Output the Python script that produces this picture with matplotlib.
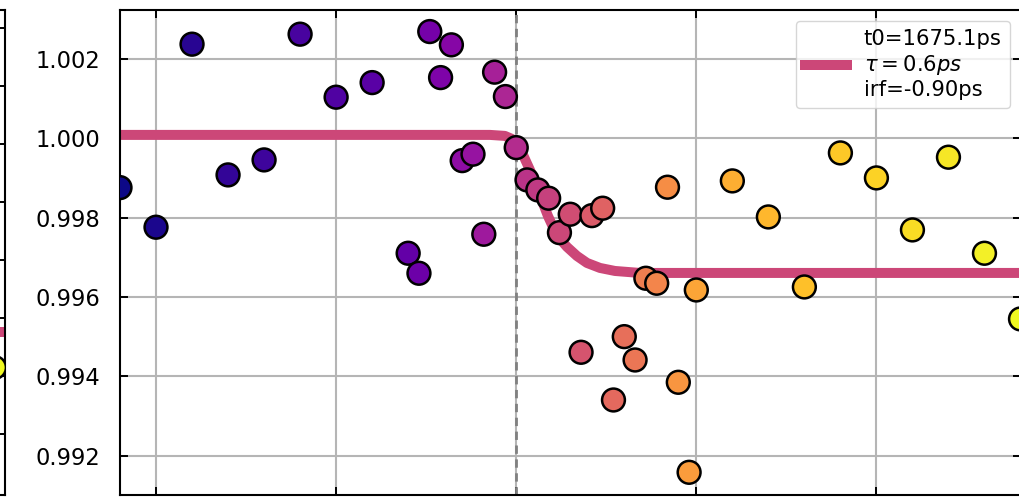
import numpy as np
import matplotlib
matplotlib.use("Agg")
from matplotlib import pyplot as plt

# delay (ps, relative to t0) and normalised signal
delay = [-2.2, -2.0, -1.8, -1.6, -1.4, -1.2, -1.0, -0.8,
         -0.6, -0.54, -0.48, -0.42, -0.36, -0.30, -0.24, -0.18, -0.12, -0.06,
         0.0, 0.06, 0.12, 0.18, 0.24, 0.30, 0.36, 0.42, 0.48, 0.54, 0.60,
         0.66, 0.72, 0.78, 0.84, 0.90, 0.96,
         1.0, 1.2, 1.4, 1.6, 1.8, 2.0, 2.2, 2.4, 2.6, 2.8]
signal = [0.998755, 0.997757, 1.002369, 0.999075, 0.999453, 1.002621, 1.001033, 1.001401,
          0.997101, 0.996597, 1.002687, 1.001527, 1.002352, 0.999435, 0.999597, 0.997580,
          1.001664, 1.001049,
          0.999763, 0.998949, 0.998697, 0.998488, 0.997621, 0.998084, 0.994606, 0.998049,
          0.998236, 0.993404, 0.995000, 0.994412, 0.996471, 0.996345, 0.998765, 0.993850,
          0.991582,
          0.996176, 0.998924, 0.998016, 0.996252, 0.999629, 0.998999, 0.997689, 0.999521,
          0.997101, 0.995446]

# fitted step curve
fit_delay = [-2.3, -0.146, -0.063, -0.024, 0.009, 0.043, 0.076, 0.109, 0.148, 0.176,
             0.204, 0.243, 0.282, 0.337, 0.393, 0.465, 0.548, 0.687, 1.02, 2.9]
fit_signal = [1.000083, 1.000083, 1.000058, 0.999982, 0.999831, 0.999529, 0.999201,
              0.998848, 0.998369, 0.998042, 0.997764, 0.997462, 0.997260, 0.997033,
              0.996857, 0.996731, 0.996655, 0.996605, 0.996605, 0.996605]

fit_label = "t0=1675.1ps\n$\\tau=0.6ps$\nirf=-0.90ps"
t0_line = 0.0

# neighbouring panel (only its right edge is visible)
left_delay = [2.8]
left_signal = [0.992300]
left_fit_delay = [-2.2, 2.9]
left_fit_signal = [0.993528, 0.993528]

W, H = 1019, 501
fig = plt.figure(figsize=(W / 100, H / 100), dpi=100)
cmap = plt.get_cmap("plasma")
fit_color = cmap(0.5)


def style(ax):
    ax.tick_params(direction="in", top=True, right=True, length=6, width=1.4,
                   labelsize=16.3, pad=14)
    for s in ax.spines.values():
        s.set_linewidth(1.5)


# left neighbour panel
axl = fig.add_axes([-906 / W, 6 / H, 911 / W, 485 / H])
axl.plot(left_fit_delay, left_fit_signal, color=fit_color, lw=7.2, zorder=2)
axl.scatter(left_delay, left_signal, c=[cmap(1.0)], s=270, edgecolors="black",
            linewidths=1.8, zorder=3)
axl.set_xlim(-2.2, 2.86)
axl.set_ylim(0.987897, 1.004621)
axl.set_yticks([0.990, 0.992, 0.994, 0.996, 0.998, 1.000, 1.002, 1.004])
style(axl)
axl.tick_params(labelleft=False, labelbottom=False)

# main panel
ax = fig.add_axes([120 / W, 6 / H, 900.5 / W, 485 / H])
colors = cmap(np.linspace(0, 1, len(delay)))
ax.plot(fit_delay, fit_signal, color=fit_color, lw=7.2, zorder=2, label=fit_label)
ax.scatter(delay, signal, c=colors, s=270, edgecolors="black", linewidths=1.8, zorder=3)
ax.axvline(t0_line, color="0.5", ls=(0, (3, 2)), lw=2, zorder=1)
ax.grid(True, color="#b5b5b5", lw=1.5, zorder=0)
ax.set_axisbelow(True)
ax.set_xlim(-2.2, 2.8)
ax.set_ylim(0.99101, 1.00323)
ax.set_xticks([-2.0, -1.0, 0.0, 1.0, 2.0])
ax.set_yticks([0.992, 0.994, 0.996, 0.998, 1.000, 1.002])
ax.yaxis.set_major_formatter(matplotlib.ticker.FormatStrFormatter("%.3f"))
style(ax)
ax.tick_params(labelbottom=False)
ax.legend(loc="upper right", fontsize=15.2)

fig.savefig("out.png", dpi=100)
